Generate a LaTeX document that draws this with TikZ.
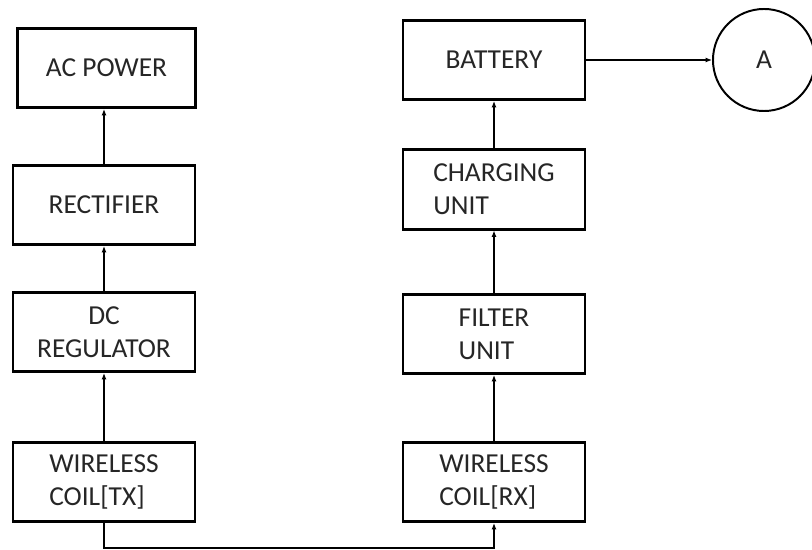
\documentclass[tikz,border=0pt]{standalone}
\usepackage{fontspec}
\setmainfont{Carlito}
\usetikzlibrary{arrows.meta}

\tikzset{
  blockbox/.style={draw, line width=2pt, minimum width=4.55cm, minimum height=1.98cm,
    align=left, inner sep=0pt, text=black!85},
  flow/.style={line width=0.8pt, -{Latex[length=4.5pt,width=3.5pt]}}
}

\begin{document}
\begin{tikzpicture}[x=0.025cm,y=-0.025cm,font=\fontsize{19.5}{23.2}\selectfont]
  \useasboundingbox (0,0) rectangle (812,550);
  % transmitter side
  \node[blockbox, minimum width=4.43cm] (acpower) at (106.5,68) {AC POWER};
  \node[blockbox] (rectifier) at (104,205) {RECTIFIER};
  \node[blockbox, align=center] (dcreg) at (104,332) {DC\\REGULATOR};
  \node[blockbox] (txcoil) at (104,482) {WIRELESS\\COIL[TX]};
  % receiver side
  \node[blockbox] (battery) at (494,60) {BATTERY};
  \node[blockbox] (charging) at (494,189.5) {CHARGING\\UNIT};
  \node[blockbox] (filter) at (494,334) {FILTER\\UNIT};
  \node[blockbox] (rxcoil) at (494,482) {WIRELESS\\COIL[RX]};
  \node[draw, circle, line width=1.4pt, minimum size=2.55cm, text=black!85] (circ) at (764,60) {A};
  \coordinate (bus) at (300,548);

  \draw[flow] (rectifier) -- (acpower.south -| rectifier);
  \draw[flow] (dcreg) -- (rectifier);
  \draw[flow] (txcoil) -- (dcreg);
  \draw[flow] (rxcoil) -- (filter);
  \draw[flow] (filter) -- (charging);
  \draw[flow] (charging) -- (battery);
  \draw[flow] (battery) -- (circ);
  \draw[flow] (txcoil.south) -- (txcoil.south |- bus) -- (rxcoil.south |- bus) -- (rxcoil.south);
\end{tikzpicture}
\end{document}
